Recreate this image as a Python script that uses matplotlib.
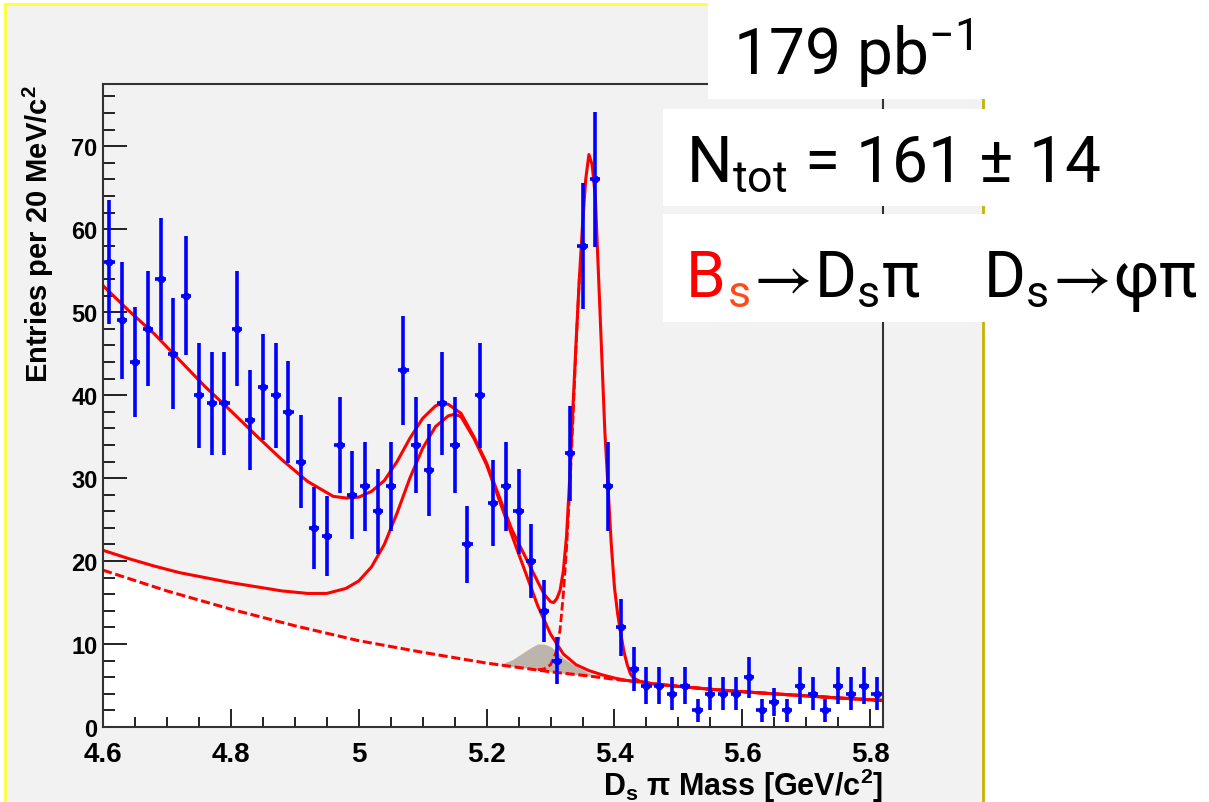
import numpy as np
import matplotlib
matplotlib.use('Agg')
import matplotlib.pyplot as plt
from matplotlib.patches import Rectangle
from matplotlib.lines import Line2D
from matplotlib.ticker import MultipleLocator, FuncFormatter

plt.rcParams['font.family'] = ['Liberation Sans', 'DejaVu Sans']
plt.rcParams['mathtext.fontset'] = 'custom'
plt.rcParams['mathtext.rm'] = 'Roboto'
plt.rcParams['mathtext.bf'] = 'Liberation Sans:bold'
plt.rcParams['mathtext.fallback'] = 'stixsans'

# histogram: 20 MeV bins from 4.60 to 5.82
m_lo, m_hi, bin_w = 4.60, 5.82, 0.02
counts = [56, 49, 44, 48, 54, 45, 52, 40, 39, 39,
          48, 37, 41, 40, 38, 32, 24, 23, 34, 28,
          29, 26, 29, 43, 34, 31, 39, 34, 22, 40,
          27, 29, 26, 20, 14, 8, 33, 58, 66, 29,
          12, 7, 5, 5, 4, 5, 2, 4, 4, 4,
          6, 2, 3, 2, 5, 4, 2, 5, 4, 5, 4]

# total fit
tot_x = [4.60, 4.64, 4.68, 4.72, 4.76, 4.80, 4.84, 4.88, 4.92, 4.96, 4.98, 5.00,
         5.02, 5.04, 5.06, 5.08, 5.10, 5.12, 5.13, 5.14, 5.16, 5.18, 5.20, 5.22,
         5.24, 5.26, 5.28, 5.29, 5.30, 5.305, 5.31, 5.315, 5.32, 5.325, 5.33, 5.335,
         5.34, 5.345, 5.35, 5.355, 5.36, 5.365, 5.37, 5.375, 5.38, 5.385, 5.39, 5.395,
         5.40, 5.405, 5.41, 5.415, 5.42, 5.425, 5.43, 5.44, 5.46, 5.50, 5.55, 5.60,
         5.65, 5.70, 5.75, 5.82]
tot_y = [53.2, 50.2, 47.4, 44.2, 41.0, 38.1, 35.1, 32.2, 29.6, 27.8, 27.6, 27.7,
         28.4, 29.7, 32.0, 34.8, 37.2, 38.7, 39.0, 38.9, 37.8, 35.0, 31.8, 27.7,
         23.7, 20.6, 17.5, 16.0, 15.1, 15.0, 15.5, 16.5, 18.8, 23.0, 30.0, 38.5,
         46.5, 54.0, 60.5, 66.0, 69.0, 67.8, 64.0, 54.5, 45.0, 35.5, 28.8, 22.0,
         16.8, 13.6, 11.2, 9.0, 7.5, 6.4, 5.9, 5.5, 5.2, 4.9, 4.55, 4.25,
         4.0, 3.75, 3.5, 3.2]

# background + broad component
broad_x = [4.60, 4.64, 4.68, 4.72, 4.76, 4.80, 4.84, 4.88, 4.92, 4.95, 4.98, 5.00,
           5.02, 5.04, 5.06, 5.08, 5.10, 5.12, 5.14, 5.15, 5.16, 5.18, 5.20, 5.22,
           5.24, 5.26, 5.28, 5.30, 5.32, 5.34, 5.36, 5.38, 5.40, 5.42, 5.44, 5.46,
           5.50, 5.55, 5.60, 5.65, 5.70, 5.75, 5.82]
broad_y = [21.3, 20.3, 19.4, 18.6, 18.0, 17.4, 16.9, 16.4, 16.1, 16.1, 16.7, 17.6,
           19.3, 22.0, 25.8, 30.0, 33.6, 36.2, 37.5, 37.7, 37.4, 34.8, 31.6, 27.3,
           23.0, 18.8, 14.6, 11.2, 8.8, 7.5, 6.8, 6.3, 5.9, 5.6, 5.45, 5.2,
           4.9, 4.55, 4.25, 4.0, 3.75, 3.5, 3.2]

# combinatorial background (dashed)
bg_x = [4.60, 4.70, 4.80, 4.90, 5.00, 5.10, 5.20, 5.30, 5.36, 5.40, 5.44, 5.46,
        5.50, 5.55, 5.60, 5.65, 5.70, 5.75, 5.82]
bg_y = [18.9, 16.4, 14.2, 12.2, 10.4, 9.0, 7.7, 6.65, 6.15, 5.75, 5.4, 5.2,
        4.9, 4.55, 4.25, 4.0, 3.75, 3.5, 3.2]

# signal + background (dashed, rising edge)
sig_x = [5.28, 5.29, 5.30, 5.305, 5.31, 5.315, 5.32, 5.325, 5.33, 5.335, 5.34, 5.345]
sig_y = [6.9, 7.0, 7.5, 8.3, 9.3, 11.8, 16.0, 21.5, 28.5, 37.0, 46.0, 54.0]

# shaded reflection bump
bump_x = [5.22, 5.24, 5.26, 5.27, 5.28, 5.29, 5.30, 5.31, 5.32, 5.34, 5.36, 5.37]
bump_lo = [7.5, 7.3, 7.1, 7.0, 6.9, 6.8, 6.65, 6.55, 6.48, 6.32, 6.15, 6.05]
bump_hi = [7.5, 8.1, 9.1, 9.6, 10.0, 10.0, 9.7, 9.1, 8.3, 7.3, 6.5, 6.05]

counts = np.array(counts, dtype=float)
centers = m_lo + bin_w * (np.arange(len(counts)) + 0.5)

W, H = 1209, 803
fig = plt.figure(figsize=(W / 100, H / 100), dpi=100)
fig.patch.set_facecolor('white')

# ROOT canvas with yellow frame
fig.add_artist(Rectangle((5 / W, 0), 978 / W, 798 / H, transform=fig.transFigure,
                         facecolor='#f2f2f2', edgecolor='none', zorder=-2))
fig.add_artist(Line2D([5 / W, 5 / W], [0, 1 - 5 / H], transform=fig.transFigure,
                      color='#ffff33', lw=2, zorder=-1))
fig.add_artist(Line2D([5 / W, 983 / W], [1 - 5 / H, 1 - 5 / H], transform=fig.transFigure,
                      color='#ffff33', lw=2, zorder=-1))
fig.add_artist(Line2D([983 / W, 983 / W], [0, 1 - 5 / H], transform=fig.transFigure,
                      color='#c4b400', lw=2, zorder=-1))

ax = fig.add_axes([103 / W, 75 / H, 780 / W, 643 / H])
ax.set_facecolor('#f2f2f2')

red = '#ff0000'
ax.fill_between(bg_x, 0, bg_y, color='white', lw=0, zorder=1)
ax.fill_between(bump_x, bump_lo, bump_hi, color='#bdb5ab', lw=0, zorder=1.5)
ax.plot(bg_x, bg_y, color=red, lw=2.2, ls=(0, (3, 1.2)), zorder=2)
ax.plot(sig_x, sig_y, color=red, lw=2.0, ls=(0, (3, 1.2)), zorder=2)
ax.plot(broad_x, broad_y, color=red, lw=2.2, zorder=2.2)
ax.plot(tot_x, tot_y, color=red, lw=2.2, zorder=2.3)

ax.errorbar(centers, counts, yerr=np.sqrt(counts), xerr=0.4 * bin_w, fmt='o',
            ms=4.5, color='#0000ff', ecolor='#0000ff', elinewidth=2.6, capsize=0,
            zorder=3)

ax.set_xlim(m_lo, m_hi)
ax.set_ylim(0, 77.5)
ax.xaxis.set_major_locator(MultipleLocator(0.2))
ax.xaxis.set_minor_locator(MultipleLocator(0.05))
ax.yaxis.set_major_locator(MultipleLocator(10))
ax.yaxis.set_minor_locator(MultipleLocator(2))
ax.xaxis.set_major_formatter(FuncFormatter(lambda v, p: f'{v:g}'))

for s in ax.spines.values():
    s.set_color('#333333')
    s.set_linewidth(1.5)
ax.tick_params(which='both', direction='in', width=1.4, color='#222222')
ax.tick_params(axis='y', which='major', length=17, pad=4, labelsize=17)
ax.tick_params(axis='y', which='minor', length=8.5)
ax.tick_params(axis='x', which='major', length=13, pad=10, labelsize=20)
ax.tick_params(axis='x', which='minor', length=7)
for lab in ax.get_xticklabels() + ax.get_yticklabels():
    lab.set_fontweight('bold')

ax.set_ylabel('Entries per 20 MeV/c$^\\mathbf{2}$', loc='top', fontsize=21,
              fontweight='bold')
ax.yaxis.set_label_coords(-0.06, 1.0)
ax.set_xlabel('D$_\\mathbf{s}$ \u03c0 Mass [GeV/c$^\\mathbf{2}$]', loc='right',
              fontsize=22, fontweight='bold')
ax.xaxis.set_label_coords(1.0, -0.06)

# white text boxes
for x0, y0, x1, y1 in [(708, 0, 986, 100), (663, 110, 986, 207), (663, 215, 986, 323)]:
    fig.add_artist(Rectangle((x0 / W, 1 - y1 / H), (x1 - x0) / W, (y1 - y0) / H,
                             transform=fig.transFigure, facecolor='white',
                             edgecolor='none', zorder=5))

tkw = dict(family='Roboto', fontsize=46, va='baseline', ha='left', zorder=6)
fig.text(733 / W, 1 - 75 / H, '179 pb$^{\\mathrm{-1}}$', **tkw)
fig.text(686 / W, 1 - 182 / H, 'N$_{\\mathrm{tot}}$ = 161 \u00b1 14', **tkw)

# decay line, coloured pieces laid end to end
arrow = '$\\!\\rightarrow\\!$'
pieces = [('B', '#ff0000'),
          ('$_{\\mathrm{s}}$', '#ff4a1a'),
          (arrow + 'D$_{\\mathrm{s}}$\u03c0    D$_{\\mathrm{s}}$' + arrow + '\u03c6\u03c0', 'black')]
renderer = fig.canvas.get_renderer()
x = 686
for txt, col in pieces:
    t = fig.text(x / W, 1 - 297 / H, txt, color=col, **tkw)
    x = t.get_window_extent(renderer=renderer).x1 + 1

fig.savefig('out.png', dpi=100, facecolor=fig.get_facecolor())
